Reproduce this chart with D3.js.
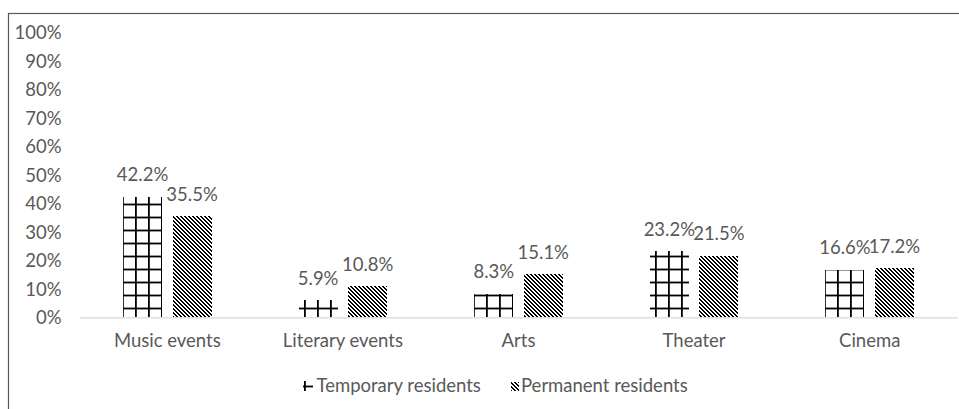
<!DOCTYPE html>
<html>
<head>
<meta charset="utf-8">
<script src="https://cdn.jsdelivr.net/npm/d3@7"></script>
<style>
  html, body { margin: 0; padding: 0; background: #fff; }
  svg { display: block; }
  text { font-family: Lato, "Open Sans", sans-serif; fill: #595959; }
</style>
</head>
<body>
<svg id="chart" width="959" height="409"></svg>
<script>
// Share of respondents attending each kind of cultural event
const categories = ["Music events", "Literary events", "Arts", "Theater", "Cinema"];
const seriesNames = ["Temporary residents", "Permanent residents"];
const temporary = [42.2, 5.9, 8.3, 23.2, 16.6];
const permanent = [35.5, 10.8, 15.1, 21.5, 17.2];
const yTicks = [0, 10, 20, 30, 40, 50, 60, 70, 80, 90, 100];

const W = 959, H = 409;
const plot = { left: 79.5, right: 957.5, top: 32, bottom: 317.3 };
const fontSize = 18.5;

const svg = d3.select("#chart");

// Fill patterns, laid out in page space so the grid lines up across bars
const defs = svg.append("defs");
const grid = defs.append("pattern")
  .attr("id", "grid")
  .attr("patternUnits", "userSpaceOnUse")
  .attr("x", 0).attr("y", 0)
  .attr("width", 13).attr("height", 13);
grid.append("rect").attr("width", 13).attr("height", 13).attr("fill", "#fff");
grid.append("rect").attr("x", 5).attr("y", 0).attr("width", 1.8).attr("height", 13).attr("fill", "#000");
grid.append("rect").attr("x", 0).attr("y", 8.6).attr("width", 13).attr("height", 1.8).attr("fill", "#000");

// Downward diagonal: 4x4 pixel tile, two dark pixels per row shifting right
const diag = defs.append("pattern")
  .attr("id", "diag")
  .attr("patternUnits", "userSpaceOnUse")
  .attr("x", 0).attr("y", 0)
  .attr("width", 4).attr("height", 4);
diag.append("rect").attr("width", 4).attr("height", 4).attr("fill", "#fff");
[[0, 0], [1, 0], [1, 1], [2, 1], [2, 2], [3, 2], [3, 3], [0, 3]].forEach(([px, py]) => {
  diag.append("rect")
    .attr("x", px).attr("y", py)
    .attr("width", 1).attr("height", 1)
    .attr("fill", "#000")
    .attr("shape-rendering", "crispEdges");
});

const fills = ["url(#grid)", "url(#diag)"];

// Chart frame
svg.append("rect")
  .attr("x", 8.5).attr("y", 13.5)
  .attr("width", W + 20).attr("height", H + 20)
  .attr("fill", "none")
  .attr("stroke", "#595959")
  .attr("stroke-width", 1.2);

// Scales
const x0 = d3.scaleBand()
  .domain(categories)
  .range([plot.left, plot.right])
  .paddingInner(0).paddingOuter(0);

const x1 = d3.scaleBand()
  .domain(seriesNames)
  .range([0, x0.bandwidth()])
  .paddingInner(0.212)
  .paddingOuter(0.879);

const y = d3.scaleLinear()
  .domain([0, 100])
  .range([plot.bottom, plot.top]);

// Y axis: labels only
const yAxis = svg.append("g")
  .attr("transform", `translate(${plot.left},0)`)
  .call(d3.axisLeft(y).tickValues(yTicks).tickFormat(d => d + "%").tickSize(0).tickPadding(18));
yAxis.select(".domain").remove();
yAxis.selectAll("text")
  .attr("font-family", null)
  .attr("fill", null)
  .style("font-size", fontSize + "px")
  .attr("dy", "0.36em");

// Bars
const rows = categories.map((c, i) => ({
  category: c,
  values: [
    { series: seriesNames[0], value: temporary[i], idx: 0 },
    { series: seriesNames[1], value: permanent[i], idx: 1 }
  ]
}));

const groups = svg.append("g")
  .selectAll("g")
  .data(rows)
  .join("g");

groups.selectAll("rect")
  .data(d => d.values.map(v => ({ ...v, category: d.category })))
  .join("rect")
  .attr("x", d => x0(d.category) + x1(d.series))
  .attr("y", d => y(d.value))
  .attr("width", x1.bandwidth())
  .attr("height", d => y(0) - y(d.value))
  .attr("fill", d => fills[d.idx])
  .attr("shape-rendering", "crispEdges");

// Value labels
groups.selectAll("text.value")
  .data(d => d.values.map(v => ({ ...v, category: d.category })))
  .join("text")
  .attr("class", "value")
  .attr("x", d => x0(d.category) + x1(d.series) + x1.bandwidth() / 2)
  .attr("y", d => y(d.value) - 15.5)
  .attr("text-anchor", "middle")
  .style("font-size", fontSize + "px")
  .text(d => d.value.toFixed(1) + "%");

// X axis: baseline and category names
const xAxis = svg.append("g")
  .attr("transform", `translate(0,${plot.bottom})`)
  .call(d3.axisBottom(x0).tickSize(0).tickSizeOuter(0));
xAxis.select(".domain").attr("stroke", "#d9d9d9").attr("stroke-width", 1.3);
xAxis.selectAll("text")
  .attr("font-family", null)
  .attr("fill", null)
  .style("font-size", fontSize + "px")
  .attr("y", 30.2)
  .attr("dy", 0);

// Legend
const legendItems = [
  { name: seriesNames[0], fill: fills[0], key: [303, 380.5, 10, 10], textX: 316.5 },
  { name: seriesNames[1], fill: fills[1], key: [510.5, 381.5, 8.5, 9], textX: 521 }
];
const legend = svg.append("g");
legendItems.forEach(item => {
  legend.append("rect")
    .attr("x", item.key[0]).attr("y", item.key[1])
    .attr("width", item.key[2]).attr("height", item.key[3])
    .attr("fill", item.fill)
    .attr("shape-rendering", "crispEdges");
  legend.append("text")
    .attr("x", item.textX)
    .attr("y", 391.5)
    .style("font-size", fontSize + "px")
    .text(item.name);
});
</script>
</body>
</html>
